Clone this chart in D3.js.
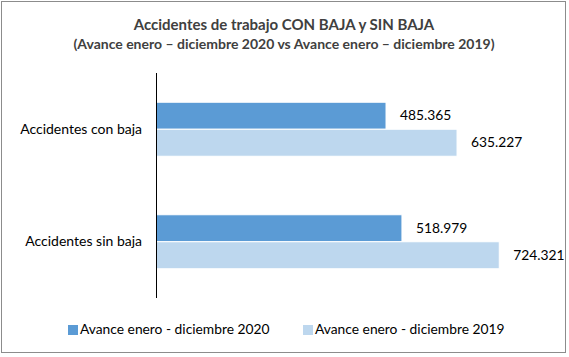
<!DOCTYPE html>
<html><head><meta charset="utf-8">
<script src="https://cdn.jsdelivr.net/npm/d3@7"></script>
<style>body{margin:0;background:#fff}svg{display:block}text{font-family:Lato,"Open Sans",sans-serif}</style>
</head><body><svg id="c" width="569" height="357"></svg>
<script>
const categories = ["Accidentes con baja", "Accidentes sin baja"];
const seriesNames = ["Avance enero - diciembre 2020", "Avance enero - diciembre 2019"];
const values2020 = [485.365, 518.979];
const values2019 = [635.227, 724.321];
const valueLabels2020 = ["485.365", "518.979"];
const valueLabels2019 = ["635.227", "724.321"];
const colors = ["#5B9BD5", "#BDD7EE"];

const svg = d3.select("#c");
svg.append("rect").attr("x",1.5).attr("y",1.5).attr("width",564).attr("height",351)
  .attr("fill","#fff").attr("stroke","#8c8c8c").attr("stroke-width",1);

svg.append("text").attr("x",284).attr("y",30).attr("text-anchor","middle")
  .attr("font-weight","bold").attr("font-size",15).attr("fill","#404040")
  .text("Accidentes de trabajo CON BAJA y SIN BAJA");
svg.append("text").attr("x",284).attr("y",49).attr("text-anchor","middle")
  .attr("font-weight","bold").attr("font-size",14).attr("fill","#404040")
  .text("(Avance enero – diciembre 2020 vs Avance enero – diciembre 2019)");

const x0 = 156;
const x = d3.scaleLinear().domain([0, 800]).range([x0, x0 + 800*0.4739]);
const y = d3.scaleBand().domain(categories).range([73, 298]).paddingInner(0.52).paddingOuter(0.26);
const ys = d3.scaleBand().domain([0,1]).range([0, y.bandwidth()]);

const rows = categories.map((c,i)=>({c, v:[values2020[i], values2019[i]], l:[valueLabels2020[i], valueLabels2019[i]]}));

const g = svg.append("g");
rows.forEach(r=>{
  [0,1].forEach(s=>{
    g.append("rect").attr("x",x(0)).attr("y",y(r.c)+ys(s))
      .attr("width",x(r.v[s])-x(0)).attr("height",ys.bandwidth())
      .attr("fill",colors[s]).attr("stroke","#fff").attr("stroke-width",1);
    g.append("text").attr("x",x(r.v[s])+14).attr("y",y(r.c)+ys(s)+ys.bandwidth()/2+1)
      .attr("dominant-baseline","middle").attr("font-size",13.8).attr("fill","#000")
      .text(r.l[s]);
  });
});

const axis = svg.append("g").attr("transform",`translate(${x0},0)`)
  .call(d3.axisLeft(y).tickSize(0).tickPadding(14));
axis.select(".domain").attr("stroke","#000").attr("d","M0.5,73V298");
axis.selectAll("text").attr("font-size",14).attr("fill","#000").style("font-family","Lato,'Open Sans',sans-serif");

const leg = [{x:68, t:seriesNames[0], c:colors[0]},{x:303, t:seriesNames[1], c:colors[1]}];
leg.forEach(d=>{
  svg.append("rect").attr("x",d.x).attr("y",325).attr("width",10).attr("height",10).attr("fill",d.c);
  svg.append("text").attr("x",d.x+12).attr("y",330).attr("dominant-baseline","middle")
    .attr("font-size",13.8).attr("fill","#000").text(d.t);
});
</script></body></html>
